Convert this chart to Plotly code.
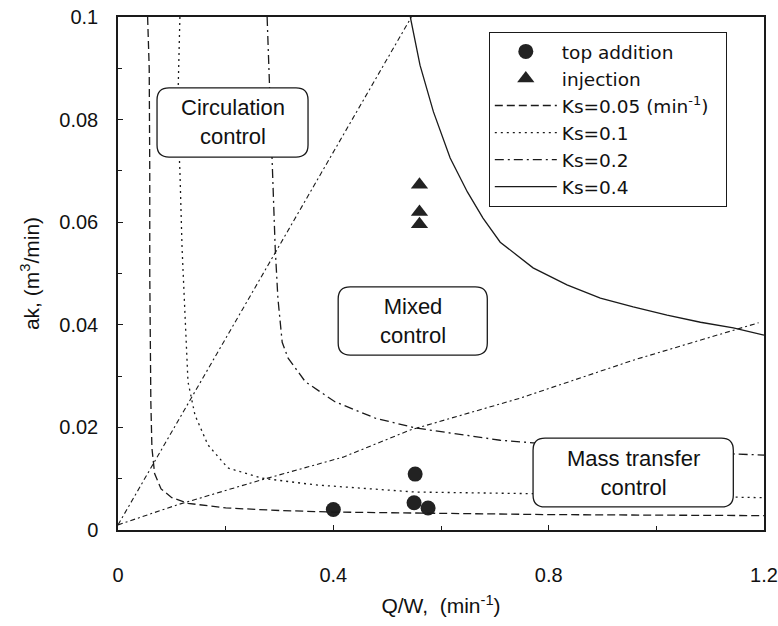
import plotly.graph_objects as go

# ---- data ----
top_x = [0.40, 0.552, 0.55, 0.576]
top_y = [0.0040, 0.0109, 0.0053, 0.0043]

inj_x = [0.56, 0.56, 0.56]
inj_y = [0.0673, 0.0620, 0.0596]

ks005_x = [0.055, 0.058, 0.059, 0.059, 0.061, 0.063, 0.068, 0.080, 0.100, 0.130, 0.20, 0.30, 0.40, 0.60, 0.80, 1.00, 1.20]
ks005_y = [0.100, 0.090, 0.070, 0.050, 0.025, 0.016, 0.011, 0.0080, 0.0063, 0.0052, 0.0043, 0.0038, 0.0035, 0.0032, 0.0030, 0.0029, 0.0028]

ks01_x = [0.115, 0.112, 0.113, 0.115, 0.119, 0.125, 0.130, 0.143, 0.167, 0.204, 0.267, 0.366, 0.487, 0.552, 0.76, 1.00, 1.20]
ks01_y = [0.100, 0.087, 0.075, 0.070, 0.055, 0.042, 0.0289, 0.0224, 0.0166, 0.0121, 0.0101, 0.0088, 0.0078, 0.0074, 0.0071, 0.0067, 0.0063]

ks02_x = [0.277, 0.279, 0.282, 0.286, 0.292, 0.297, 0.305, 0.316, 0.348, 0.403, 0.478, 0.552, 0.71, 0.771, 0.90, 1.05, 1.20]
ks02_y = [0.100, 0.094, 0.0867, 0.0725, 0.055, 0.0452, 0.0366, 0.0335, 0.0289, 0.0250, 0.0218, 0.0199, 0.0175, 0.0170, 0.0160, 0.0152, 0.0146]

ks04_x = [0.543, 0.561, 0.586, 0.617, 0.649, 0.678, 0.710, 0.771, 0.834, 0.896, 0.957, 1.020, 1.082, 1.143, 1.20]
ks04_y = [0.100, 0.0906, 0.0815, 0.0725, 0.0659, 0.0608, 0.0561, 0.0511, 0.0478, 0.0452, 0.0435, 0.0419, 0.0405, 0.0394, 0.0380]

diagA_x = [0.0, 0.545]
diagA_y = [0.001, 0.100]
diagB_x = [0.0, 0.11, 0.264, 0.418, 0.543, 0.747, 0.957, 1.19]
diagB_y = [0.001, 0.0049, 0.0097, 0.0142, 0.0195, 0.0257, 0.0331, 0.0404]

x_ticks = [0, 0.4, 0.8, 1.2]
y_ticks = [0, 0.02, 0.04, 0.06, 0.08, 0.1]

region_labels = ["Circulation<br>control", "Mixed<br>control", "Mass transfer<br>control"]
region_boxes = [(0.0725, 0.353, 0.0727, 0.0862), (0.409, 0.686, 0.0341, 0.0474), (0.771, 1.143, 0.0045, 0.0179)]

INK = "#1a1a1a"
FONT = "Liberation Sans"
LEGFONT = "DejaVu Sans"

fig = go.Figure()

def line(x, y, dash, name, show=True, width=1.3):
    fig.add_trace(go.Scatter(x=x, y=y, mode="lines", name=name, showlegend=show,
                             line=dict(color=INK, width=width, dash=dash)))

fig.add_trace(go.Scatter(x=top_x, y=top_y, mode="markers", name="top addition",
                         marker=dict(symbol="circle", size=15, color="#222")))
fig.add_trace(go.Scatter(x=inj_x, y=inj_y, mode="markers", name="injection",
                         marker=dict(symbol="triangle-up", size=15, color="#222")))
line(ks005_x, ks005_y, "8px,4px", "Ks=0.05 (min<sup>-1</sup>)\u00a0\u00a0")
line(ks01_x, ks01_y, "2px,4px", "Ks=0.1")
line(ks02_x, ks02_y, "9px,4px,2px,4px", "Ks=0.2")
line(ks04_x, ks04_y, "solid", "Ks=0.4")
line(diagA_x, diagA_y, "5px,3px,2px,3px", "A", show=False, width=1.1)
line(diagB_x, diagB_y, "5px,3px,2px,3px", "B", show=False, width=1.1)

def rounded(x0, x1, y0, y1, rpx=12):
    rx = rpx / 538.0
    ry = rpx / 5130.0
    return (f"M {x0+rx},{y1} L {x1-rx},{y1} Q {x1},{y1} {x1},{y1-ry} "
            f"L {x1},{y0+ry} Q {x1},{y0} {x1-rx},{y0} L {x0+rx},{y0} "
            f"Q {x0},{y0} {x0},{y0+ry} L {x0},{y1-ry} Q {x0},{y1} {x0+rx},{y1} Z")

for (x0, x1, y0, y1), txt in zip(region_boxes, region_labels):
    fig.add_shape(type="path", path=rounded(x0, x1, y0, y1), xref="x", yref="y",
                  line=dict(color=INK, width=1.3), fillcolor="white", layer="above")
    fig.add_annotation(x=(x0 + x1) / 2, y=(y0 + y1) / 2, xref="x", yref="y",
                       text=txt, showarrow=False, align="center",
                       font=dict(family=FONT, size=22, color="#111"))

fig.update_layout(
    width=778, height=626,
    margin=dict(l=118, r=14, t=17, b=96),
    paper_bgcolor="white", plot_bgcolor="white",
    font=dict(family=FONT, size=20, color="#111"),
    legend=dict(x=0.574, y=0.971, xanchor="left", yanchor="top",
                bgcolor="white", bordercolor=INK, borderwidth=1, itemwidth=62,
                font=dict(family=LEGFONT, size=18.5), tracegroupgap=0),
    showlegend=True,
)
fig.update_xaxes(range=[0, 1.2], tickvals=x_ticks, ticks="inside", ticklen=5,
                 tickcolor=INK, showgrid=False, zeroline=False, automargin=False,
                 ticklabeloverflow="allow",
                 showline=True, mirror=True, linecolor=INK, linewidth=1.5,
                 ticklabelstandoff=26,
                 minor=dict(dtick=0.2, tick0=0, ticks="inside", ticklen=4, tickcolor=INK),
                 title=dict(text="Q/W,  (min<sup>-1</sup>)", standoff=14,
                            font=dict(family=FONT, size=21)))
fig.update_yaxes(range=[0, 0.1], tickvals=y_ticks, ticks="inside", ticklen=5,
                 tickcolor=INK, showgrid=False, zeroline=False, automargin=False,
                 ticklabeloverflow="allow",
                 showline=True, mirror=True, linecolor=INK, linewidth=1.5,
                 ticklabelstandoff=14,
                 minor=dict(dtick=0.01, tick0=0, ticks="inside", ticklen=4, tickcolor=INK),
                 title=dict(text="ak, (m<sup>3</sup>/min)", standoff=14,
                            font=dict(family=FONT, size=21)))

fig.write_html("out.html", config={"displayModeBar": False},
               post_script="document.body.style.margin='0';document.body.style.overflow='hidden';")
